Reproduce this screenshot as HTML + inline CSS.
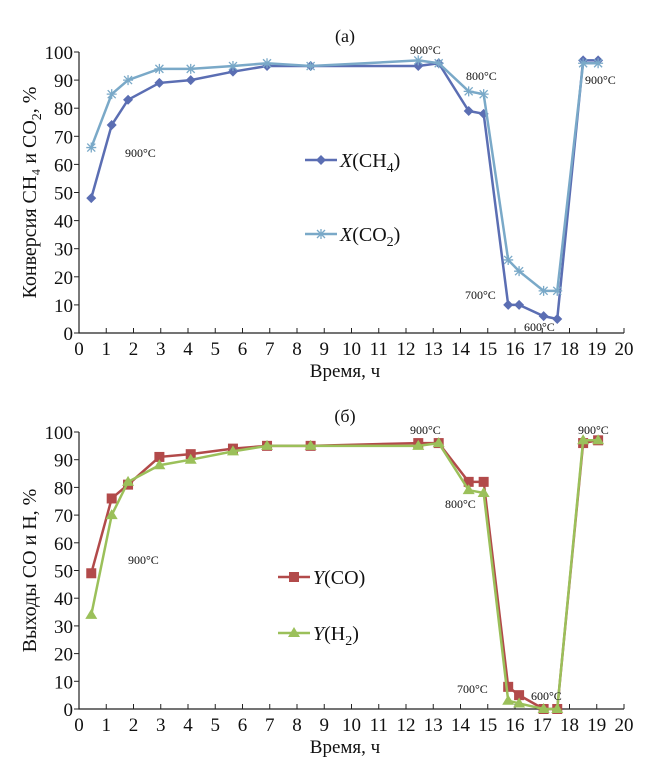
<!DOCTYPE html>
<html><head><meta charset="utf-8">
<style>
html,body{margin:0;padding:0;background:#fff;}
svg{display:block;font-family:"Liberation Serif",serif;}
</style></head>
<body>
<svg id="c" width="654" height="769" viewBox="0 0 654 769" xmlns="http://www.w3.org/2000/svg"></svg>
<script>
const xsA = [0.45,1.2,1.8,2.95,4.1,5.65,6.9,8.5,12.45,13.2,14.3,14.85,15.75,16.15,17.05,17.55,18.5,19.05];
const ch4 = [48,74,83,89,90,93,95,95,95,96,79,78,10,10,6,5,97,97];
const co2 = [66,85,90,94,94,95,96,95,97,96,86,85,26,22,15,15,96,96];
const xsB = [0.45,1.2,1.8,2.95,4.1,5.65,6.9,8.5,12.45,13.2,14.3,14.85,15.75,16.15,17.05,17.55,18.5,19.05];
const yCO = [49,76,81,91,92,94,95,95,96,96,82,82,8,5,0,0,96,97];
const yH2 = [34,70,82,88,90,93,95,95,95,96,79,78,3,2,0,0,97,97];
const xTicks = [0,1,2,3,4,5,6,7,8,9,10,11,12,13,14,15,16,17,18,19,20];
const yTicks = [0,10,20,30,40,50,60,70,80,90,100];

const NS="http://www.w3.org/2000/svg";
const svg=document.getElementById('c');
function el(tag,attrs,parent){const e=document.createElementNS(NS,tag);for(const k in attrs)e.setAttribute(k,attrs[k]);(parent||svg).appendChild(e);return e;}
function txt(s,x,y,size,anchor,parent){const t=el('text',{x:x,y:y,'font-size':size,'text-anchor':anchor||'start',fill:'#111'},parent);t.textContent=s;return t;}

function panel(p){
  const g=el('g',{});
  
  
  const X0=79,X1=624;
  const sx=v=>X0+(X1-X0)*v/20;
  const sy=v=>p.y0+(p.y100-p.y0)*v/100;
  const ax=el('path',{d:`M${X0},${p.y100} L${X0},${p.y0} L${X1},${p.y0}`,stroke:'#222','stroke-width':1.2,fill:'none'},g);
  
  
  xTicks.forEach(v=>{
    el('line',{x1:sx(v),x2:sx(v),y1:p.y0,y2:p.y0-5,stroke:'#222','stroke-width':1},g);
    const t=txt(String(v),sx(v),p.y0+22,19,'middle',g);
    
    
  });
  yTicks.forEach(v=>{
    el('line',{x1:X0-5,x2:X0,y1:sy(v),y2:sy(v),stroke:'#222','stroke-width':1},g);
    const t=txt(String(v),X0-6,sy(v)+7,19,'end',g);
    
    
  });
  const xt=txt('Время, ч',345,p.y0+44,19,'middle',g);
  
  
  const yt=el('text',{x:0,y:0,'font-size':20,'text-anchor':'middle',fill:'#111',transform:`translate(36,${(p.y0+p.y100)/2}) rotate(-90)`},g);
  yt.innerHTML=p.ytitle;
  
  
  const tt=txt(p.title,345,p.y100-10,18,'middle',g);
  
  
  p.series.forEach((s,si)=>{
    const pts=s.ys.map((v,i)=>[sx(s.xs[i]),sy(v)]);
    const pl=el('polyline',{points:pts.map(q=>q.join(',')).join(' '),stroke:s.color,'stroke-width':2.5,fill:'none'},g);
    
    
    pts.forEach(q=>{const m=marker(s.mk,q[0],q[1],s.color,g);});
    const ly=p.legY[si];
    const lg=el('g',{},g);
    
    
    el('line',{x1:p.legX,x2:p.legX+32,y1:ly,y2:ly,stroke:s.color,'stroke-width':2.5},lg);
    marker(s.mk,p.legX+16,ly,s.color,lg);
    const lt=el('text',{x:p.legX+35,y:ly+7,'font-size':20,fill:'#111'},lg);
    lt.innerHTML=s.label;
  });
  p.notes.forEach(n=>{const t=txt(n[0]+'°C',n[1],n[2],12,'start',g);});
}
function marker(k,x,y,c,g){
  if(k==='d') return el('path',{d:`M${x},${y-5} L${x+5},${y} L${x},${y+5} L${x-5},${y}Z`,fill:c},g);
  if(k==='s') return el('rect',{x:x-5,y:y-5,width:10,height:10,fill:c},g);
  if(k==='t') return el('path',{d:`M${x},${y-6} L${x+6},${y+4} L${x-6},${y+4}Z`,fill:c},g);
  return el('path',{d:`M${x-5},${y} L${x+5},${y} M${x},${y-5} L${x},${y+5} M${x-4},${y-4} L${x+4},${y+4} M${x-4},${y+4} L${x+4},${y-4}`,stroke:c,'stroke-width':1.3,fill:'none'},g);
}
panel({name:'chart-a',y0:333,y100:52,title:'(a)',
  ytitle:'Конверсия CH₄ и CO<tspan dy="5" font-size="14">2</tspan><tspan dy="-5">, %</tspan>',
  legX:305,legY:[160,234],
  series:[{id:'x-ch4',xs:xsA,ys:ch4,color:'#5b6eb3',mk:'d',label:'<tspan font-style="italic">X</tspan>(CH<tspan dy="5" font-size="14">4</tspan><tspan dy="-5">)</tspan>'},
          {id:'x-co2',xs:xsA,ys:co2,color:'#7aa9c8',mk:'x',label:'<tspan font-style="italic">X</tspan>(CO<tspan dy="5" font-size="14">2</tspan><tspan dy="-5">)</tspan>'}],
  notes:[['900',125,157],['900',410,54],['800',466,80],['900',585,84],['700',465,299],['600',524,331]]});
panel({name:'chart-b',y0:709,y100:432,title:'(б)',
  ytitle:'Выходы CO и H, %',
  legX:278,legY:[577,633],
  series:[{id:'y-co',xs:xsB,ys:yCO,color:'#b24a4a',mk:'s',label:'<tspan font-style="italic">Y</tspan>(CO)'},
          {id:'y-h2',xs:xsB,ys:yH2,color:'#9bc05a',mk:'t',label:'<tspan font-style="italic">Y</tspan>(H<tspan dy="5" font-size="14">2</tspan><tspan dy="-5">)</tspan>'}],
  notes:[['900',128,564],['900',410,434],['800',445,508],['900',578,434],['700',457,693],['600',531,700]]});
</script>
</body></html>
